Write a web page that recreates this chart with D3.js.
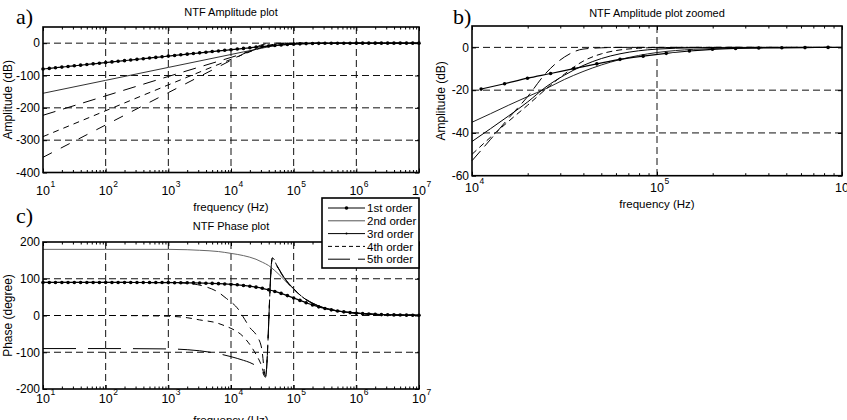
<!DOCTYPE html>
<html>
<head>
<meta charset="utf-8">
<script src="https://cdnjs.cloudflare.com/ajax/libs/d3/7.8.5/d3.min.js"></script>
<style>
body { margin: 0; background: #fff; }
svg { font-family: "Liberation Sans", Arial, Helvetica, sans-serif; }
</style>
</head>
<body>
<svg id="chart" width="847" height="420"></svg>
<script>
// ---- data ----
var orderNames = ["1st order", "2nd order", "3rd order", "4th order", "5th order"];

var fullDecades = [1e1, 1e2, 1e3, 1e4, 1e5, 1e6, 1e7];
var fullExponents = ["1", "2", "3", "4", "5", "6", "7"];
var zoomDecades = [1e4, 1e5, 1e6];
var zoomExponents = ["4", "5", "6"];

var ampTicks = [0, -100, -200, -300, -400];
var zoomTicks = [0, -20, -40, -60];
var phaseTicks = [200, 100, 0, -100, -200];

// sample grid used by the 1st order curves (markers)
var freqGrid = [10, 12.6, 15.8, 20, 25.1, 31.6, 39.8, 50.1, 63.1, 79.4,
  100, 126, 158, 200, 251, 316, 398, 501, 631, 794,
  1000, 1260, 1580, 2000, 2510, 3160, 3980, 5010, 6310, 7940,
  1e4, 1.26e4, 1.58e4, 2e4, 2.51e4, 3.16e4, 3.98e4, 5.01e4, 6.31e4, 7.94e4,
  1e5, 1.26e5, 1.58e5, 2e5, 2.51e5, 3.16e5, 3.98e5, 5.01e5, 6.31e5, 7.94e5,
  1e6, 1.26e6, 1.58e6, 2e6, 2.51e6, 3.16e6, 3.98e6, 5.01e6, 6.31e6, 7.94e6,
  1e7];

// a) amplitude
var ampOrder1 = [-80, -78, -76, -74, -72, -70, -68, -66, -64, -62,
  -60, -58, -56, -54, -52, -50, -48, -46, -44, -42,
  -40, -38, -36, -34, -32, -30, -28, -26, -24, -22.1,
  -20.2, -18.2, -16.2, -14.3, -12.3, -10.4, -8.6, -7.0, -5.5, -4.2,
  -3.0, -2.1, -1.4, -0.9, -0.6, -0.4, -0.25, -0.15, -0.1, -0.05,
  0, 0, 0, 0, 0, 0, 0, 0, 0, 0,
  0];
var ampFreqN = [10, 100, 1000, 1e4, 1.58e4, 2.51e4, 3.98e4, 6.31e4, 1e5, 3.16e5, 1e6, 1e7];
var ampOrder2 = [-155, -115, -75, -35, -27, -19.3, -11.3, -5.7, -2.4, -0.2, 0, 0];
var ampOrder3 = [-223, -163, -103, -44, -32, -18.5, -8.5, -3, -0.8, 0, 0, 0];
var ampOrder4 = [-289, -209, -129, -50, -34.5, -19.5, -6.5, -1.2, -0.1, 0, 0, 0];
var ampOrder5 = [-353, -253, -153, -53, -33, -12, -0.8, 0, 0, 0, 0, 0];

// b) amplitude zoomed
var zoomFreq1 = [11200, 15000, 19950, 26600, 35500, 47300, 63100, 84100,
  112200, 149600, 199500, 266000, 354800, 473000, 631000, 841000];
var zoomOrder1 = [-19.5, -17, -14.4, -12.2, -9.9, -7.7, -5.6, -4.1,
  -2.8, -1.7, -0.9, -0.5, -0.3, -0.2, -0.1, 0];
var zoomFreqN = [1e4, 1.26e4, 1.58e4, 2e4, 2.51e4, 3.16e4, 3.98e4, 5.01e4,
  6.31e4, 7.94e4, 1e5, 1.58e5, 2.51e5, 3.98e5, 6.31e5, 1e6];
var zoomOrder2 = [-35, -31, -27, -23, -19.3, -15, -11.3, -8.2, -5.7, -3.8, -2.4, -0.9, -0.3, -0.1, 0, 0];
var zoomOrder3 = [-44, -38, -32, -25.5, -18.5, -13, -8.5, -5.2, -3, -1.6, -0.8, -0.2, 0, 0, 0, 0];
var zoomOrder4 = [-50, -42, -34.5, -27, -19.5, -12.5, -6.5, -3, -1.2, -0.4, -0.1, 0, 0, 0, 0, 0];
var zoomOrder5 = [-53, -43, -33, -23, -12, -4.5, -0.8, -0.2, 0, 0, 0, 0, 0, 0, 0, 0];

// c) phase
var phaseOrder1 = [90, 90, 90, 90, 90, 90, 90, 90, 90, 90,
  90, 90, 89.9, 89.9, 89.9, 89.8, 89.8, 89.7, 89.7, 89.6,
  89.5, 89.3, 89.2, 89.0, 88.7, 88.4, 87.9, 87.4, 86.7, 85.9,
  84.8, 83.5, 81.8, 79.7, 77.1, 74.0, 70.1, 65.5, 60.2, 54.2,
  47.7, 41.1, 34.8, 28.9, 23.6, 19.2, 15.4, 12.4, 9.9, 7.9,
  6.3, 5.0, 4.0, 3.2, 2.5, 2.0, 1.6, 1.3, 1.0, 0.8,
  0.6];
var phaseFreq2 = [10, 100, 1000, 2000, 3160, 6310, 1e4, 1.58e4, 2.51e4, 3.16e4, 3.98e4, 5.01e4,
  6.31e4, 7.94e4, 1e5, 1.26e5, 1.58e5, 2e5, 2.51e5, 3.98e5, 6.31e5, 1e6, 3.16e6, 1e7];
var phaseOrder2 = [180, 180, 180, 179, 177.5, 174, 169, 163, 153, 145, 136, 122,
  106, 88, 72, 56, 43, 33, 25.5, 15.5, 10, 6.5, 2, 0.7];
var phaseFreq3 = [10, 100, 1000, 2000, 3160, 6310, 1e4, 1.58e4, 2e4, 2.51e4, 3.16e4, 3.55e4,
  4.57e4, 5.62e4, 7.08e4, 1e5, 1.26e5, 1.58e5, 2e5, 2.51e5, 3.98e5, 6.31e5, 1e6, 3.16e6, 1e7];
var phaseOrder3 = [-90, -90, -91, -93, -96, -104, -112, -122, -128, -137, -153, -168,
  158, 131, 103, 73, 57, 44, 34, 26, 16, 10, 6.5, 2, 0.7];
var phaseFreq4 = [10, 100, 316, 1000, 2000, 3160, 5890, 8510, 1e4, 1.58e4, 2.34e4, 3.02e4,
  3.55e4, 4.57e4, 5.62e4, 7.08e4, 1e5, 1.58e5, 2.51e5, 3.98e5, 1e6, 3.16e6, 1e7];
var phaseOrder4 = [0, 0, -0.5, -2, -6, -12, -20, -30, -35, -58, -97, -133,
  -165, 156, 129, 101, 72, 43, 25.5, 15.5, 6.5, 2, 0.7];
var phaseFreq5 = [10, 100, 1000, 1580, 2510, 3980, 5890, 8510, 1.32e4, 1.66e4, 2e4, 2.57e4,
  3.09e4, 3.55e4, 4.57e4, 5.62e4, 7.08e4, 1e5, 1.58e5, 2.51e5, 3.98e5, 1e6, 3.16e6, 1e7];
var phaseOrder5 = [90, 90, 90, 89, 86, 78, 66, 46, 16, -11, -33, -55,
  -90, -165, 157, 130, 102, 72, 43, 25.5, 15.5, 6.5, 2, 0.7];

// ---- drawing ----
var svg = d3.select("#chart");

function zipPts(f, v) { return f.map(function(d, i) { return [d, v[i]]; }); }

function drawPanel(p) {
  var x = d3.scaleLog().domain(p.xDomain).range([p.left, p.right]);
  var y = d3.scaleLinear().domain(p.yDomain).range([p.bottom, p.top]);
  var g = svg.append("g");

  // dashed grid
  g.selectAll(".gx").data(p.xTicks.slice(1, -1)).enter().append("line")
    .attr("x1", function(d) { return x(d); }).attr("x2", function(d) { return x(d); })
    .attr("y1", p.top).attr("y2", p.bottom)
    .attr("stroke", "#111").attr("stroke-width", 1).attr("stroke-dasharray", "7,4");
  g.selectAll(".gy").data(p.yTicks.filter(function(v) { return v > p.yDomain[0] && v < p.yDomain[1]; }))
    .enter().append("line")
    .attr("x1", p.left).attr("x2", p.right)
    .attr("y1", function(d) { return y(d); }).attr("y2", function(d) { return y(d); })
    .attr("stroke", "#111").attr("stroke-width", 1).attr("stroke-dasharray", "7,4");

  // curves
  var line = d3.line()
    .x(function(d) { return x(d[0]); })
    .y(function(d) { return y(d[1]); })
    .curve(d3.curveMonotoneX);
  p.series.forEach(function(s) {
    var pts = zipPts(s.f, s.v);
    g.append("path").datum(pts)
      .attr("fill", "none")
      .attr("stroke", s.color || "#000")
      .attr("stroke-width", s.width || 1)
      .attr("stroke-dasharray", s.dash || null)
      .attr("d", line);
    if (s.markers) {
      g.selectAll(null).data(pts).enter().append("circle")
        .attr("cx", function(d) { return x(d[0]); })
        .attr("cy", function(d) { return y(d[1]); })
        .attr("r", s.markers)
        .attr("fill", "#000");
    }
  });

  // ticks (inside)
  var minor = x.ticks().filter(function(t) { return p.xTicks.indexOf(t) < 0; });
  function tickAxis(axis, tx, ty) {
    var a = g.append("g").attr("transform", "translate(" + tx + "," + ty + ")").call(axis);
    a.select(".domain").remove();
    a.selectAll(".tick text").remove();
    a.selectAll(".tick line").attr("stroke", "#000");
  }
  tickAxis(d3.axisBottom(x).tickValues(p.xTicks).tickSizeInner(-4).tickSizeOuter(0), 0, p.bottom);
  tickAxis(d3.axisTop(x).tickValues(p.xTicks).tickSizeInner(-4).tickSizeOuter(0), 0, p.top);
  tickAxis(d3.axisBottom(x).tickValues(minor).tickSizeInner(-2.5).tickSizeOuter(0), 0, p.bottom);
  tickAxis(d3.axisTop(x).tickValues(minor).tickSizeInner(-2.5).tickSizeOuter(0), 0, p.top);
  tickAxis(d3.axisLeft(y).tickValues(p.yTicks).tickSizeInner(-4).tickSizeOuter(0), p.left, 0);
  tickAxis(d3.axisRight(y).tickValues(p.yTicks).tickSizeInner(-4).tickSizeOuter(0), p.right, 0);

  // frame
  g.append("rect")
    .attr("x", p.left).attr("y", p.top)
    .attr("width", p.right - p.left).attr("height", p.bottom - p.top)
    .attr("fill", "none").attr("stroke", "#000").attr("stroke-width", 1.6);

  // x tick labels 10^n
  p.xTicks.forEach(function(t, i) {
    g.append("text").attr("x", x(t)).attr("y", p.xLabelY)
      .attr("text-anchor", "middle").attr("font-size", 12.5).text("10");
    g.append("text").attr("x", x(t) + 7.5).attr("y", p.xLabelY - 8)
      .attr("font-size", 8.5).text(p.xExp[i]);
  });
  // y tick labels
  p.yTicks.forEach(function(t) {
    g.append("text").attr("x", p.left - 3).attr("y", y(t)).attr("dy", "0.36em")
      .attr("text-anchor", "end").attr("font-size", 12).text(t);
  });

  // titles and labels
  g.append("text").attr("x", (p.left + p.right) / 2).attr("y", p.titleY)
    .attr("text-anchor", "middle").attr("font-size", 11).text(p.title);
  g.append("text").attr("x", (p.left + p.right) / 2).attr("y", p.xTitleY)
    .attr("text-anchor", "middle").attr("font-size", 11.5).text("frequency (Hz)");
  g.append("text")
    .attr("transform", "translate(" + p.yTitleX + "," + ((p.top + p.bottom) / 2) + ") rotate(-90)")
    .attr("text-anchor", "middle").attr("font-size", 12).text(p.yTitle);
  g.append("text").attr("x", p.tagX).attr("y", p.tagY)
    .attr("font-family", "'Liberation Serif', 'Times New Roman', serif")
    .attr("font-size", 22).text(p.tag);
}

drawPanel({
  left: 43, right: 419, top: 27, bottom: 172.5,
  xDomain: [1e1, 1e7], yDomain: [-400, 50],
  xTicks: fullDecades, xExp: fullExponents, yTicks: ampTicks,
  xLabelY: 195, titleY: 16, xTitleY: 211, yTitleX: 12,
  title: "NTF Amplitude plot", yTitle: "Amplitude (dB)",
  tag: "a)", tagX: 16, tagY: 24,
  series: [
    { f: ampFreqN, v: ampOrder2, color: "#333" },
    { f: ampFreqN, v: ampOrder3, dash: "13,8" },
    { f: ampFreqN, v: ampOrder4, dash: "6,5" },
    { f: ampFreqN, v: ampOrder5, dash: "10,10" },
    { f: freqGrid, v: ampOrder1, width: 1.2, markers: 1.8 }
  ]
});

drawPanel({
  left: 472, right: 842, top: 26, bottom: 175.7,
  xDomain: [1e4, 1e6], yDomain: [-60, 10],
  xTicks: zoomDecades, xExp: zoomExponents, yTicks: zoomTicks,
  xLabelY: 192, titleY: 17, xTitleY: 208, yTitleX: 445,
  title: "NTF Amplitude plot zoomed", yTitle: "Amplitude (dB)",
  tag: "b)", tagX: 453, tagY: 24,
  series: [
    { f: zoomFreqN, v: zoomOrder2, color: "#222" },
    { f: zoomFreqN, v: zoomOrder3 },
    { f: zoomFreqN, v: zoomOrder4, dash: "6,4" },
    { f: zoomFreqN, v: zoomOrder5, dash: "13,6" },
    { f: zoomFreq1, v: zoomOrder1, width: 1.2, markers: 1.8 }
  ]
});

drawPanel({
  left: 43, right: 419, top: 242, bottom: 389,
  xDomain: [1e1, 1e7], yDomain: [-200, 200],
  xTicks: fullDecades, xExp: fullExponents, yTicks: phaseTicks,
  xLabelY: 403, titleY: 230, xTitleY: 424, yTitleX: 12,
  title: "NTF Phase plot", yTitle: "Phase (degree)",
  tag: "c)", tagX: 16, tagY: 223,
  series: [
    { f: phaseFreq2, v: phaseOrder2, color: "#666" },
    { f: phaseFreq3, v: phaseOrder3, dash: "33,12" },
    { f: phaseFreq4, v: phaseOrder4, dash: "6,5" },
    { f: phaseFreq5, v: phaseOrder5, dash: "9,6" },
    { f: freqGrid, v: phaseOrder1, width: 1.2, markers: 1.8 }
  ]
});

// legend of panel c
var legend = svg.append("g");
legend.append("rect").attr("x", 322).attr("y", 198).attr("width", 97).attr("height", 70)
  .attr("fill", "#fff").attr("stroke", "#000").attr("stroke-width", 1.6);
var legendDash = [null, null, null, "4,3", "22,8"];
var legendColor = ["#000", "#555", "#000", "#000", "#000"];
var legendDot = [1.8, 0, 1, 0, 0];
orderNames.forEach(function(name, i) {
  var ly = 208 + i * 12.8;
  legend.append("line").attr("x1", 328).attr("x2", 365).attr("y1", ly).attr("y2", ly)
    .attr("stroke", legendColor[i]).attr("stroke-width", 1)
    .attr("stroke-dasharray", legendDash[i]);
  if (legendDot[i]) {
    legend.append("circle").attr("cx", 346.5).attr("cy", ly).attr("r", legendDot[i]).attr("fill", "#000");
  }
  legend.append("text").attr("x", 367).attr("y", ly).attr("dy", "0.36em")
    .attr("font-size", 11.5).text(name);
});
</script>
</body>
</html>
